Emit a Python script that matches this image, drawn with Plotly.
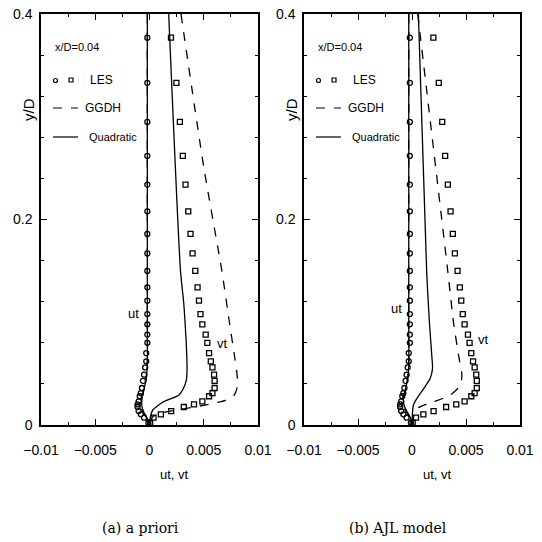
import plotly.graph_objects as go

# ---------------- data ----------------
y_les = [0.377, 0.333, 0.295, 0.262, 0.234, 0.208, 0.186, 0.167, 0.150, 0.134,
         0.121, 0.108, 0.098, 0.088, 0.080, 0.070, 0.062, 0.056, 0.049, 0.043,
         0.036, 0.031, 0.028, 0.023, 0.020, 0.0175, 0.0136, 0.0104, 0.0071, 0.0022]
ut_les = [-0.0002, -0.0002, -0.0002, -0.0002, -0.0002, -0.0002, -0.0002, -0.0002, -0.0002, -0.0002,
          -0.0002, -0.0002, -0.0002, -0.0002, -0.0002, -0.0003, -0.0003, -0.0004, -0.0005, -0.0006,
          -0.0007, -0.0008, -0.0009, -0.0010, -0.0011, -0.0011, -0.0010, -0.0008, -0.0005, -0.0001]
vt_les = [0.00198, 0.00248, 0.00280, 0.00307, 0.00332, 0.00357, 0.00378, 0.00397, 0.00422, 0.00443,
          0.00456, 0.00470, 0.00487, 0.00518, 0.00533, 0.00549, 0.00565, 0.00580, 0.00595, 0.00600,
          0.00600, 0.00580, 0.00549, 0.00487, 0.00410, 0.00316, 0.00200, 0.00105, 0.00037, 0.00006]

# (a) a priori
a_quad_ut_y = [0.4, 0.1, 0.06, 0.045, 0.035, 0.025, 0.018, 0.012, 0.006, 0.0]
a_quad_ut_x = [-0.0002, -0.0002, -0.0002, -0.0003, -0.0005, -0.0007, -0.0007, -0.0005, -0.0002, 0.0]
a_ggdh_ut_y = [0.4, 0.1, 0.06, 0.045, 0.035, 0.025, 0.018, 0.012, 0.006, 0.0]
a_ggdh_ut_x = [-0.0002, -0.0002, -0.0002, -0.0003, -0.0005, -0.0008, -0.0008, -0.0006, -0.0002, 0.0]
a_quad_vt_y = [0.4, 0.151, 0.118, 0.085, 0.069, 0.0526, 0.044, 0.035, 0.029, 0.0227, 0.0146, 0.008, 0.0]
a_quad_vt_x = [0.00177, 0.00285, 0.00316, 0.00336, 0.00343, 0.00346, 0.00340, 0.00310, 0.00270, 0.00130, 0.00030, 0.00008, 0.0]
a_ggdh_vt_y = [0.4, 0.251, 0.15, 0.101, 0.069, 0.0526, 0.038, 0.028, 0.024, 0.0204, 0.0162, 0.012, 0.008, 0.0]
a_ggdh_vt_x = [0.0029, 0.0050, 0.00667, 0.00735, 0.00781, 0.00803, 0.00812, 0.00775, 0.00700, 0.00560, 0.00340, 0.00120, 0.00030, 0.0]

# (b) AJL model
b_quad_ut_y = [0.4, 0.1, 0.06, 0.045, 0.035, 0.025, 0.018, 0.012, 0.006, 0.0]
b_quad_ut_x = [-0.0003, -0.0003, -0.0003, -0.0004, -0.0006, -0.0008, -0.0007, -0.0004, -0.0001, 0.0]
b_ggdh_ut_y = [0.4, 0.1, 0.06, 0.045, 0.035, 0.025, 0.018, 0.012, 0.006, 0.0]
b_ggdh_ut_x = [-0.0003, -0.0003, -0.0003, -0.0004, -0.0006, -0.0009, -0.0008, -0.0005, -0.0001, 0.0]
b_quad_vt_y = [0.4, 0.149, 0.1, 0.068, 0.055, 0.045, 0.035, 0.0256, 0.019, 0.0]
b_quad_vt_x = [0.00059, 0.00136, 0.00161, 0.00183, 0.00190, 0.00167, 0.00105, 0.00044, 0.00012, 0.0]
b_ggdh_vt_y = [0.4, 0.149, 0.1, 0.068, 0.0487, 0.0386, 0.029, 0.0224, 0.0168, 0.007, 0.0]
b_ggdh_vt_x = [0.00053, 0.00332, 0.00384, 0.00431, 0.00462, 0.00447, 0.00353, 0.00198, 0.00059, 0.0001, 0.0]

x_tickvals = [-0.01, -0.005, 0, 0.005, 0.01]
x_ticktext = ["\u22120.01", "\u22120.005", "0", "0.005", "0.01"]
y_tickvals = [0, 0.2, 0.4]
y_ticktext = ["0", "0.2", "0.4"]

# ---------------- figure ----------------
W = H = 542
FONT = "Liberation Sans, Arial, sans-serif"
SERIF = "DejaVu Serif, serif"

def px(xp):
    return xp / W

def py(yp):
    return 1 - yp / H

fig = go.Figure()

def add_panel(xa, ya, qut, gut, qvt, gvt):
    for (xs, ys), dash in [(qut, "solid"), (gut, "dash"), (qvt, "solid"), (gvt, "dash")]:
        fig.add_trace(go.Scatter(x=xs, y=ys, mode="lines", xaxis=xa, yaxis=ya,
                                 line=dict(color="black", width=1.3, dash=dash, shape="spline", smoothing=0.6),
                                 showlegend=False, hoverinfo="skip"))
    fig.add_trace(go.Scatter(x=ut_les, y=y_les, mode="markers", xaxis=xa, yaxis=ya,
                             marker=dict(symbol="circle-open", size=5, color="black", line=dict(width=1.3)),
                             showlegend=False))
    fig.add_trace(go.Scatter(x=vt_les, y=y_les, mode="markers", xaxis=xa, yaxis=ya,
                             marker=dict(symbol="square-open", size=5, color="black", line=dict(width=1.3)),
                             showlegend=False))

add_panel("x", "y", (a_quad_ut_x, a_quad_ut_y), (a_ggdh_ut_x, a_ggdh_ut_y),
          (a_quad_vt_x, a_quad_vt_y), (a_ggdh_vt_x, a_ggdh_vt_y))
add_panel("x2", "y2", (b_quad_ut_x, b_quad_ut_y), (b_ggdh_ut_x, b_ggdh_ut_y),
          (b_quad_vt_x, b_quad_vt_y), (b_ggdh_vt_x, b_ggdh_vt_y))

ax_common = dict(showline=True, linecolor="black", linewidth=1.5, mirror="ticks",
                 ticks="inside", ticklen=6, tickwidth=1, tickcolor="black",
                 showgrid=False, zeroline=False, tickangle=0, automargin=False,
                 tickfont=dict(family=FONT, size=14, color="black"))

xa = dict(ax_common, range=[-0.01, 0.01], tickvals=x_tickvals, ticktext=x_ticktext,
          ticklabelstandoff=11,
          minor=dict(tickvals=[-0.0075, -0.0025, 0.0025, 0.0075], ticks="inside", ticklen=3, tickcolor="black"))
ya = dict(ax_common, range=[0, 0.4], tickvals=y_tickvals, ticktext=y_ticktext,
          ticklabelstandoff=4,
          minor=dict(tickvals=[0.04, 0.08, 0.12, 0.16, 0.24, 0.28, 0.32, 0.36], ticks="inside", ticklen=3, tickcolor="black"))

L1, R1, L2, R2, T, B = 41, 258, 304, 520, 14, 425

fig.update_layout(
    width=W, height=H, margin=dict(l=0, r=0, t=0, b=0),
    paper_bgcolor="white", plot_bgcolor="white",
    xaxis=dict(xa, domain=[px(L1), px(R1)], anchor="y"),
    yaxis=dict(ya, domain=[py(B), py(T)], anchor="x"),
    xaxis2=dict(xa, domain=[px(L2), px(R2)], anchor="y2"),
    yaxis2=dict(ya, domain=[py(B), py(T)], anchor="x2"),
)

ann = []
shapes = []

def text(x, y, s, size=12, font=FONT, angle=0, xanchor="center"):
    ann.append(dict(x=px(x), y=py(y), xref="paper", yref="paper", text=s, showarrow=False,
                    xanchor=xanchor, yanchor="middle", textangle=angle,
                    font=dict(family=font, size=size, color="black")))

for off, cap, capx in [(0, "(a) a priori", 141), (263, "(b) AJL model", 398)]:
    # legend
    text(53 + off, 47, "x/D=0.04", 11, xanchor="left")
    shapes.append(dict(type="circle", xref="paper", yref="paper",
                       x0=px(53.5 + off), x1=px(57.5 + off), y0=py(82.5), y1=py(78.5),
                       line=dict(color="black", width=1.2)))
    shapes.append(dict(type="rect", xref="paper", yref="paper",
                       x0=px(69 + off), x1=px(73 + off), y0=py(82), y1=py(78),
                       line=dict(color="black", width=1.2)))
    text(88 + off, 80, "LES", 12, xanchor="left")
    shapes.append(dict(type="line", xref="paper", yref="paper",
                       x0=px(53 + off), x1=px(78 + off), y0=py(108), y1=py(108),
                       line=dict(color="black", width=1.2, dash="dash")))
    text(83 + off, 108, "GGDH", 12, xanchor="left")
    shapes.append(dict(type="line", xref="paper", yref="paper",
                       x0=px(53 + off), x1=px(78 + off), y0=py(137), y1=py(137),
                       line=dict(color="black", width=1.2)))
    text(87 + off, 137, "Quadratic", 11, xanchor="left")
    # axis titles
    text(28 + off, 110, "y/D", 15, angle=-90)
    text(174 + off, 474, "ut, vt", 13)
    # caption
    text(capx, 528, cap, 14, font=SERIF)

text(133, 313, "ut", 13)
text(222, 343, "vt", 13)
text(396, 308, "ut", 13)
text(483, 339, "vt", 13)

fig.update_layout(annotations=ann, shapes=shapes)
fig.write_html("out.html", config={"displayModeBar": False},
               post_script="document.body.style.margin='0';document.body.style.padding='0';"
                           "document.documentElement.style.overflow='hidden';")
